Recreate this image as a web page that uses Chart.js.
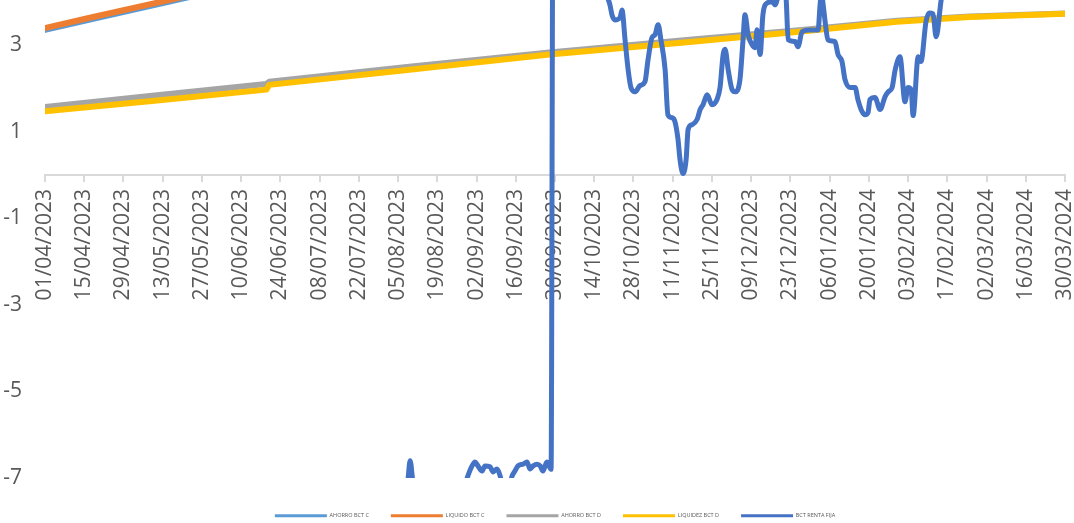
<!DOCTYPE html>
<html>
<head>
<meta charset="utf-8">
<script src="https://cdn.jsdelivr.net/npm/chart.js@4.4.1/dist/chart.umd.min.js"></script>
<style>
  html, body { margin: 0; padding: 0; background: #fff; }
</style>
</head>
<body>
<canvas id="chart" width="1074" height="523"></canvas>
<script>
// x values are days counted from 01/04/2023 (day 364 = 30/03/2024)
const startDate = Date.UTC(2023, 3, 1);
const lastDay = 364;
const tickStep = 14;
const yTickValues = [-7, -5, -3, -1, 1, 3];

const seriesNames = ['AHORRO BCT C', 'LIQUIDO BCT C', 'AHORRO BCT D', 'LIQUIDEZ BCT D', 'BCT RENTA FIJA'];
const seriesColors = ['#5B9BD5', '#ED7D31', '#A5A5A5', '#FFC000', '#4472C4'];

const ahorroCDays = [0, 16, 44, 120, 250, 364];
const ahorroCValues = [3.35, 3.59, 4.00, 5.1, 7.0, 8.6];

const liquidoCDays = [0, 16, 45, 120, 250, 364];
const liquidoCValues = [3.39, 3.63, 4.05, 5.15, 7.05, 8.65];

const ahorroDDays = [0, 40, 79, 80, 130, 180, 230, 270, 304, 330, 364];
const ahorroDValues = [1.57, 1.84, 2.10, 2.15, 2.50, 2.83, 3.12, 3.35, 3.56, 3.66, 3.73];

const liquidezDDays = [0, 40, 79, 80, 130, 180, 230, 270, 304, 330, 364];
const liquidezDValues = [1.47, 1.72, 1.97, 2.08, 2.43, 2.78, 3.07, 3.31, 3.54, 3.65, 3.72];

const rentaFijaDays = [
  0, 60, 127, 129.5, 130.3, 131.2, 133, 148, 150.4, 152.4, 153.5, 154.5, 156, 157, 158.8, 159.9,
  161.3, 162.4, 163.8, 165.2, 166.7, 167.7, 168.8, 170.6, 172, 173.1, 174.2, 175.6, 176.7, 177.7,
  179.1, 180.6, 181.3, 190, 197, 199.9, 201.6, 202.4, 203.4, 205.2, 205.9, 207, 208.1, 209.1,
  210.6, 212.3, 214.1, 215.2, 216.6, 217.7, 218.8, 219.8, 221.3, 222.3, 223.8, 224.8, 225.9,
  226.6, 227.7, 228.8, 229.5, 230.9, 232.7, 233.8, 234.8, 236.3, 238, 239.8, 240.9, 242,
  242.7, 243.8, 245.2, 246.3, 248, 249.1, 249.8, 250.9, 252.3, 253.4, 254.1, 255.2, 256.2,
  257.7, 259.5, 260.5, 262, 263.4, 264.5, 265.2, 267.7, 268.7, 270.2, 273, 275.9, 276.6,
  277.1, 277.7, 278.4, 279.4, 281.9, 283, 284.4, 285.5, 287.3, 289.1, 290.1, 291.6, 292.6,
  293.7, 294.4, 296.2, 298, 299.8, 300.9, 302.3, 303.4, 305.1, 306.9, 308, 309.1, 309.8,
  311.6, 312.6, 314.4, 315.5, 316.9, 318, 319.8, 320.5, 330, 345, 364
];
const rentaFijaValues = [
  -8.8, -8.4, -7.8, -7.05, -6.6, -7.05, -7.8, -7.6, -7.05, -6.72, -6.63, -6.72, -6.84, -6.72, -6.74, -6.86,
  -6.79, -6.95, -7.3, -7.3, -6.95, -6.84, -6.72, -6.68, -6.63, -6.79, -6.72, -6.68, -6.72, -6.84,
  -6.63, -6.8, 7.0, 6.0, 5.0, 4.25, 3.93, 3.68, 3.58, 3.63, 3.81, 3.12, 2.43, 2.02,
  1.92, 2.06, 2.15, 2.66, 3.17, 3.24, 3.47, 3.12, 2.43, 1.39, 1.32, 1.23, 0.82,
  0.36, 0.03, 0.36, 1.05, 1.16, 1.28, 1.51, 1.62, 1.85, 1.62, 1.74, 2.02, 2.78,
  2.90, 2.43, 1.97, 1.92, 2.20, 3.12, 3.70, 3.24, 3.01, 2.94, 3.35, 2.78, 3.70,
  3.97, 4.00, 3.93, 4.2, 4.3, 4.04, 3.12, 3.08, 2.96, 3.31, 3.35, 3.35, 3.93,
  4.2, 3.93, 3.54, 3.12, 3.08, 2.78, 2.62, 2.20, 2.02, 2.02, 1.74, 1.46, 1.39,
  1.44, 1.74, 1.79, 1.51, 1.81, 1.92, 2.02, 2.43, 2.73, 1.69, 2.02, 1.97, 1.37,
  2.73, 2.62, 3.54, 3.74, 3.72, 3.19, 4.04, 4.3, 4.7, 5.0, 5.3
];

function toPoints(days, values) {
  return days.map((d, i) => ({ x: d, y: values[i] }));
}

function formatDay(day) {
  const dt = new Date(startDate + day * 86400000);
  const dd = String(dt.getUTCDate()).padStart(2, '0');
  const mm = String(dt.getUTCMonth() + 1).padStart(2, '0');
  return dd + '/' + mm + '/' + dt.getUTCFullYear();
}

const allDays = [ahorroCDays, liquidoCDays, ahorroDDays, liquidezDDays, rentaFijaDays];
const allValues = [ahorroCValues, liquidoCValues, ahorroDValues, liquidezDValues, rentaFijaValues];
const widths = [6, 6, 6, 6, 5];

const datasets = seriesNames.map((name, i) => ({
  label: name,
  data: toPoints(allDays[i], allValues[i]),
  borderColor: seriesColors[i],
  backgroundColor: seriesColors[i],
  borderWidth: widths[i],
  pointRadius: 0,
  cubicInterpolationMode: i === 4 ? 'monotone' : 'default',
  tension: 0,
  borderJoinStyle: 'round',
  borderCapStyle: 'round',
  clip: 0,
  order: seriesNames.length - 1 - i
}));

const axisFont = { family: '"Open Sans", sans-serif', size: 21 };
const textColor = '#595959';

new Chart(document.getElementById('chart').getContext('2d'), {
  type: 'line',
  data: { datasets: datasets },
  options: {
    responsive: false,
    animation: false,
    devicePixelRatio: 1,
    layout: { padding: { left: 3, right: 9, top: 0, bottom: -5.5 } },
    plugins: {
      tooltip: { enabled: false },
      legend: {
        position: 'bottom',
        fullSize: false,
        // empty title only used as a spacer between the plot and the legend row
        title: { display: true, text: '', font: { size: 10, lineHeight: 1.1 }, padding: 1 },
        labels: {
          boxWidth: 52,
          boxHeight: 3,
          padding: 22,
          color: textColor,
          font: { family: '"Open Sans", sans-serif', size: 5.5 },
          sort: (a, b) => a.datasetIndex - b.datasetIndex,
          generateLabels: (chart) => {
            const items = Chart.defaults.plugins.legend.labels.generateLabels(chart);
            items.forEach(it => { it.lineWidth = 0; });
            return items;
          }
        }
      }
    },
    scales: {
      x: {
        type: 'linear',
        min: 0,
        max: lastDay,
        position: { y: 0 },
        afterFit: (scale) => { scale.paddingLeft = 0; scale.paddingRight = 0; },
        ticks: {
          stepSize: tickStep,
          autoSkip: false,
          minRotation: 90,
          maxRotation: 90,
          padding: 8,
          color: textColor,
          font: axisFont,
          callback: (v) => formatDay(v)
        },
        grid: { drawOnChartArea: false, drawTicks: true, tickLength: 6, color: '#d9d9d9', lineWidth: 2 },
        border: { display: true, color: '#d9d9d9', width: 2 }
      },
      y: {
        min: -7,
        max: 4.04,
        afterBuildTicks: (scale) => { scale.ticks = yTickValues.map(v => ({ value: v })); },
        afterFit: (scale) => { scale.width = 42; scale.paddingTop = 0; scale.paddingBottom = 0; },
        ticks: { padding: 23, color: textColor, font: axisFont },
        grid: { display: false, drawTicks: false },
        border: { display: false }
      }
    }
  }
});
</script>
</body>
</html>
